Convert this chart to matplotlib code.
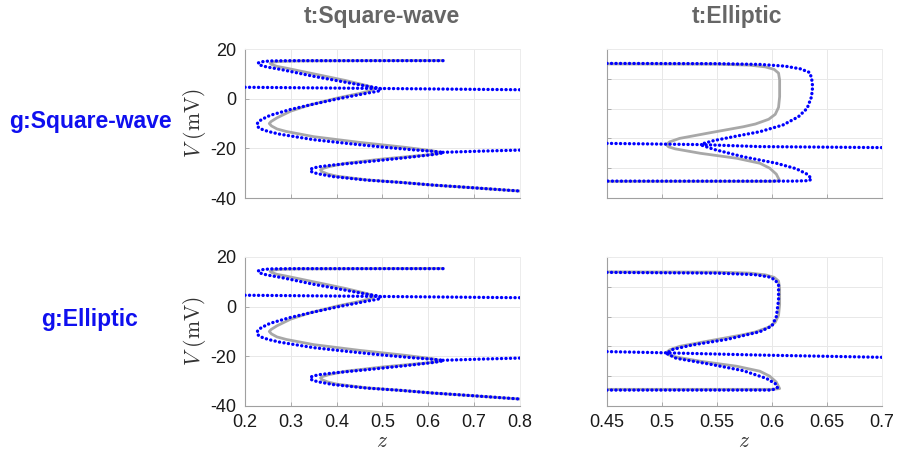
import numpy as np
import matplotlib
matplotlib.use("Agg")
import matplotlib.pyplot as plt

plt.rcParams['font.family'] = ['Liberation Sans', 'DejaVu Sans']
plt.rcParams['mathtext.fontset'] = 'cm'
plt.rcParams['axes.unicode_minus'] = False

col_titles = ["t:Square-wave", "t:Elliptic"]
row_titles = ["g:Square-wave", "g:Elliptic"]

# t:Square-wave (gray, left column)
sq_gray_z = [0.635, 0.45, 0.32, 0.275, 0.26, 0.255, 0.259, 0.27, 0.29, 0.35, 0.42, 0.465,
             0.478, 0.48, 0.475, 0.45, 0.40, 0.34, 0.30, 0.27, 0.257, 0.253, 0.258, 0.27,
             0.29, 0.35, 0.45, 0.55, 0.61, 0.622, 0.625, 0.615, 0.60, 0.50, 0.42, 0.385,
             0.37, 0.365, 0.368, 0.38, 0.40, 0.466, 0.54, 0.61, 0.684, 0.80]
sq_gray_v = [15.4, 15.3, 15.2, 15.0, 14.7, 14.2, 13.7, 13.0, 12.3, 10.0, 7.3, 5.3,
             4.6, 4.0, 3.3, 2.1, 0.2, -2.6, -5.0, -7.7, -9.2, -10.0, -11.0, -12.2,
             -13.2, -15.3, -17.6, -19.6, -21.0, -21.5, -21.9, -22.2, -22.6, -24.3, -26.0, -27.3,
             -28.1, -28.7, -29.4, -30.3, -31.2, -32.7, -33.7, -34.8, -35.7, -37.2]

# g model on t:Square-wave (blue, left column, same in both rows)
sq_blue_z = [0.632, 0.45, 0.30, 0.255, 0.238, 0.229, 0.23, 0.238, 0.25, 0.28, 0.35, 0.42,
             0.47, 0.488, 0.496, 0.497, 0.49, 0.478, 0.466, 0.407, 0.349, 0.298, 0.255,
             0.236, 0.228, 0.226, 0.23, 0.24, 0.255, 0.276, 0.349, 0.422, 0.495, 0.567,
             0.61, 0.627, 0.632, 0.625, 0.61, 0.549, 0.466, 0.393, 0.362, 0.347, 0.342,
             0.346, 0.358, 0.393, 0.466, 0.538, 0.611, 0.684, 0.80]
sq_blue_v = [15.3, 15.3, 15.3, 15.2, 14.9, 14.4, 13.8, 13.2, 12.7, 11.7, 9.0, 6.6,
             4.9, 4.4, 3.9, 3.5, 3.0, 2.6, 2.2, 0.1, -2.2, -4.4, -6.7,
             -8.4, -9.6, -10.6, -11.7, -12.6, -13.4, -14.3, -16.5, -18.0, -19.4, -20.6,
             -21.2, -21.5, -21.8, -22.1, -22.5, -23.8, -25.4, -26.7, -27.4, -28.0, -28.7,
             -29.5, -30.2, -31.4, -32.8, -33.7, -34.8, -35.7, -37.2]
sq_blue_hi_z = [0.2, 0.5, 0.8]
sq_blue_hi_v = [4.6, 4.1, 3.6]
sq_blue_lo_z = [0.632, 0.72, 0.8]
sq_blue_lo_v = [-21.6, -21.1, -20.7]

# t:Elliptic (gray, right column)
el_gray_z = [0.45, 0.55, 0.58, 0.594, 0.602, 0.606, 0.607, 0.607, 0.606, 0.603, 0.597,
             0.585, 0.574, 0.544, 0.516, 0.507, 0.504, 0.506, 0.512, 0.535, 0.568, 0.589,
             0.598, 0.604, 0.607, 0.60, 0.45]
el_gray_v = [14.0, 13.9, 13.5, 12.8, 11.8, 10.3, 7.5, 0.8, -3.5, -6.3, -8.3,
             -10.2, -11.3, -13.7, -16.0, -17.4, -18.5, -19.4, -20.2, -22.0, -24.0, -26.0,
             -28.0, -30.4, -33.0, -33.3, -33.3]

# g:Square-wave on t:Elliptic (blue, top right)
elsq_blue_z = [0.45, 0.55, 0.589, 0.612, 0.626, 0.634, 0.636, 0.637, 0.636, 0.632, 0.624,
               0.610, 0.589, 0.565, 0.547, 0.538, 0.536, 0.547, 0.574, 0.604, 0.622, 0.632,
               0.636, 0.634, 0.62, 0.45]
elsq_blue_v = [14.2, 14.1, 13.8, 13.1, 12.0, 10.6, 8.5, 4.8, 0.8, -3.9, -7.3,
               -10.6, -13.3, -15.3, -16.9, -18.0, -18.7, -20.4, -23.4, -26.0, -28.2, -30.4,
               -32.2, -33.0, -33.2, -33.2]
elsq_mid_z = [0.45, 0.536, 0.589, 0.7]
elsq_mid_v = [-18.0, -18.5, -19.3, -19.7]

# g:Elliptic on t:Elliptic (blue, bottom right)
elel_blue_z = [0.45, 0.55, 0.584, 0.597, 0.603, 0.606, 0.606, 0.604, 0.600, 0.589, 0.559,
               0.528, 0.510, 0.504, 0.513, 0.544, 0.574, 0.595, 0.603, 0.605, 0.600, 0.45]
elel_blue_v = [13.8, 13.5, 12.9, 12.0, 10.8, 8.6, 2.7, -4.0, -7.8, -10.1, -13.2,
               -15.4, -17.2, -18.8, -20.8, -23.2, -25.8, -28.9, -31.0, -32.6, -33.6, -33.6]
elel_mid_z = [0.45, 0.504, 0.589, 0.7]
elel_mid_v = [-18.1, -18.6, -19.5, -20.4]

GRAY = '#a8a8a8'
BLUE = '#0000ff'

fig = plt.figure(figsize=(8.98, 4.53), dpi=100)

xs = [0.2728, 0.6759]
ys = [0.5629, 0.1038]
w, h = 0.3062, 0.3289

blue_sets = {
    (0, 0): [(sq_blue_z, sq_blue_v), (sq_blue_hi_z, sq_blue_hi_v), (sq_blue_lo_z, sq_blue_lo_v)],
    (1, 0): [(sq_blue_z, sq_blue_v), (sq_blue_hi_z, sq_blue_hi_v), (sq_blue_lo_z, sq_blue_lo_v)],
    (0, 1): [(elsq_blue_z, elsq_blue_v), (elsq_mid_z, elsq_mid_v)],
    (1, 1): [(elel_blue_z, elel_blue_v), (elel_mid_z, elel_mid_v)],
}
gray_sets = {0: (sq_gray_z, sq_gray_v), 1: (el_gray_z, el_gray_v)}

for r in range(2):
    for c in range(2):
        ax = fig.add_axes([xs[c], ys[r], w, h])
        gz, gv = gray_sets[c]
        ax.plot(gz, gv, color=GRAY, lw=2.0, solid_capstyle='butt',
                solid_joinstyle='round', zorder=2)
        for bz, bv in blue_sets[(r, c)]:
            ax.plot(bz, bv, color=BLUE, lw=2.4, ls=(0, (0.05, 1.3)),
                    dash_capstyle='round', zorder=3)
        ax.set_ylim(-40, 20)
        if c == 0:
            ax.set_xlim(0.2, 0.8)
            ax.set_xticks(np.arange(0.2, 0.81, 0.1))
            ax.set_yticks([-40, -20, 0, 20])
            ax.set_yticklabels(['-40', '-20', '0', '20'])
            ax.set_ylabel(r'$V\ (\mathrm{mV})$', fontsize=15.5, color='#333333', labelpad=2)
        else:
            ax.set_xlim(0.45, 0.7)
            ax.set_xticks(np.arange(0.45, 0.701, 0.05))
            ax.set_yticks(np.linspace(-40, 20, 6))
            ax.set_yticklabels([])
        if r == 1:
            if c == 0:
                ax.set_xticklabels(['0.2', '0.3', '0.4', '0.5', '0.6', '0.7', '0.8'])
            else:
                ax.set_xticklabels(['0.45', '0.5', '0.55', '0.6', '0.65', '0.7'])
            ax.set_xlabel(r'$z$', fontsize=15.5, color='#333333', labelpad=0)
        else:
            ax.set_xticklabels([])
        ax.grid(True, color='#e8e8e8', lw=0.7, zorder=0)
        ax.set_axisbelow(True)
        for s in ['left', 'bottom']:
            ax.spines[s].set_color('#a0a0a0')
            ax.spines[s].set_linewidth(0.8)
        for s in ['top', 'right']:
            ax.spines[s].set_color('#ececec')
            ax.spines[s].set_linewidth(0.7)
        ax.tick_params(direction='in', length=3, width=0.6, color='#a0a0a0',
                       labelsize=13, labelcolor='#1a1a1a', pad=6)

fig.text(0.4254, 0.9625, col_titles[0], ha='center', va='center',
         fontsize=16.5, fontweight='bold', color='#666666')
fig.text(0.8207, 0.9625, col_titles[1], ha='center', va='center',
         fontsize=16.5, fontweight='bold', color='#666666')
fig.text(0.1002, 0.7307, row_titles[0], ha='center', va='center',
         fontsize=16.5, fontweight='bold', color='#0f0fef')
fig.text(0.1002, 0.2958, row_titles[1], ha='center', va='center',
         fontsize=16.5, fontweight='bold', color='#0f0fef')

fig.savefig('out.png', dpi=100)
